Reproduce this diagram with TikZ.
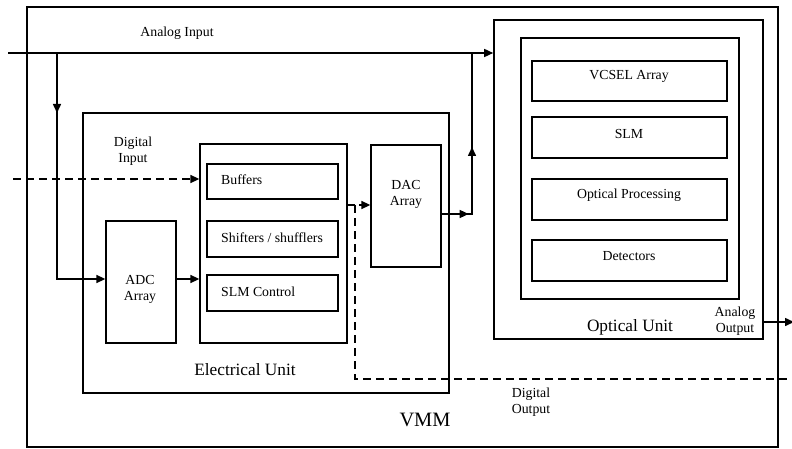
\documentclass[tikz,border=0pt]{standalone}
\usepackage{fontspec}
\setmainfont{Liberation Serif}
\usetikzlibrary{arrows.meta}
\begin{document}
\begin{tikzpicture}[x=1pt,y=-1pt,
  frame/.style={draw,line width=1.6pt,inner sep=0pt},
  thinframe/.style={draw,line width=1.3pt,inner sep=0pt},
  subbox/.style={draw,line width=2pt,inner sep=0pt},
  lbl/.style={inner sep=0pt,font=\fontsize{13.8}{16}\selectfont,align=center},
  biglbl/.style={inner sep=0pt,font=\fontsize{17.3}{20}\selectfont},
  wire/.style={line width=1.5pt},
  arr/.style={wire,-{Triangle[length=9pt,width=8pt]}},
  dash line/.style={wire,dash pattern=on 8pt off 5pt}]
\useasboundingbox (0,0) rectangle (792,449);
\fill[white] (0,0) rectangle (792,449);

% boxes given by corners: (left,top) -- (right,bottom)
\newcommand{\boxat}[6]{\node[#1,minimum width={#5-#3},minimum height={#6-#4}] (#2) at ({(#3+#5)/2},{(#4+#6)/2}) {};}

% outer VMM frame
\boxat{frame}{vmm}{27}{7}{778}{447}
% electrical unit
\boxat{thinframe}{elec}{83}{113}{449}{393}
\boxat{thinframe}{proc}{200}{144}{347}{343}
\boxat{subbox}{buf}{207}{164}{338}{199}
\boxat{subbox}{shf}{207}{221}{338}{257}
\boxat{subbox}{slmc}{207}{275}{338}{311}
\boxat{thinframe}{adc}{106}{221}{176}{343}
\boxat{thinframe}{dac}{371}{145}{441}{267}
% optical unit
\boxat{frame}{opt}{494}{20}{763}{339}
\boxat{frame}{optin}{521}{38}{739}{299}
\boxat{subbox}{vcsel}{532}{61}{727}{101}
\boxat{subbox}{slm}{532}{117}{727}{158}
\boxat{subbox}{oproc}{532}{179}{727}{220}
\boxat{subbox}{det}{532}{240}{727}{281}

% labels
\node[lbl] (tain) at (177,33) {Analog Input};
\node[lbl] (tdin) at (133,151) {Digital\\Input};
\node[lbl,anchor=west] (tbuf) at (221,180) {Buffers};
\node[lbl,anchor=west] (tshf) at (221,238) {Shifters / shufflers};
\node[lbl,anchor=west] (tslmc) at (221,292) {SLM Control};
\node[lbl] (tadc) at (140,289) {ADC\\Array};
\node[lbl] (tdac) at (406,194) {DAC\\Array};
\node[biglbl] (telec) at (245,370) {Electrical Unit};
\node[inner sep=0pt,font=\fontsize{20.4}{24}\selectfont] (tvmm) at (425,420) {VMM};
\node[lbl] (tvcsel) at (629,76) {VCSEL Array};
\node[lbl] (tslm) at (629,134) {SLM};
\node[lbl] (toproc) at (629,195) {Optical Processing};
\node[lbl] (tdet) at (629,256) {Detectors};
\node[biglbl] (topt) at (630,327) {Optical Unit};
\node[lbl] (taout) at (735,321) {Analog\\Output};
\node[lbl] (tdout) at (531,402) {Digital\\Output};

% connector end points
\coordinate (ain) at (8,53);
\coordinate (br) at (57,53);
\coordinate (din) at (13,179);
\coordinate (dcorner) at (355,205);
\coordinate (dout) at (792,379);
\coordinate (ucorner) at (472,214);
\coordinate (aout) at (794,322);

% analog input and its branch to the ADC
\draw[arr] (ain) -- (ain -| opt.west);
\draw[arr] (br) -- ++(0,60);
\draw[arr] (br) |- (adc.west |- 0,279);
\draw[arr] (adc.east |- 0,279) -- (proc.west |- 0,279);

% digital input
\draw[dash line,-{Triangle[length=9pt,width=8pt]}] (din) -- (din -| proc.west);

% digital path to DAC and digital output
\draw[wire] (proc.east |- dcorner) -- (dcorner);
\draw[dash line] (dcorner) |- (dout);
\draw[arr,dash pattern=on 4pt off 2pt] (dcorner) ++(4,0) -- (dac.west |- dcorner);

% DAC output joining the analog line
\draw[wire] (dac.east |- ucorner) -- (ucorner) -- (ucorner |- ain);
\draw[arr] (dac.east |- ucorner) -- ++(27,0);
\draw[arr] (ucorner) -- ++(0,-67);

% analog output
\draw[arr] (opt.east |- aout) -- (aout);
\end{tikzpicture}
\end{document}
